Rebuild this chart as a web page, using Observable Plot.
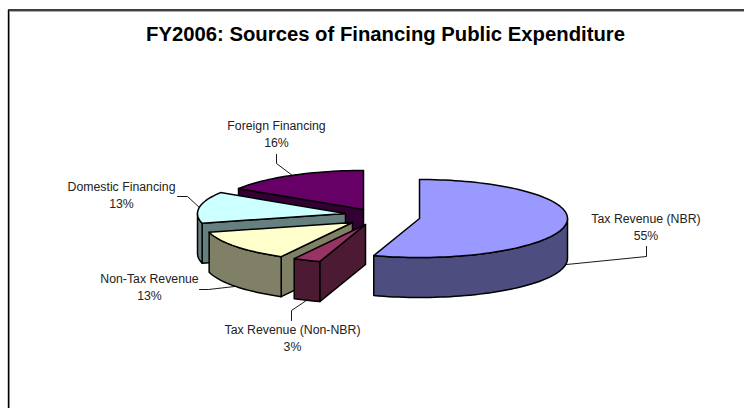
<!DOCTYPE html>
<html>
<head>
<meta charset="utf-8">
<style>
  html, body { margin: 0; padding: 0; background: #fff; }
  svg { display: block; }
</style>
<script src="https://cdn.jsdelivr.net/npm/d3@7"></script>
<script src="https://cdn.jsdelivr.net/npm/@observablehq/plot@0.6"></script>
</head>
<body>
<script>
// Financing shares, in pie order clockwise from twelve o'clock
const sources = ["Tax Revenue (NBR)", "Tax Revenue (Non-NBR)", "Non-Tax Revenue", "Domestic Financing", "Foreign Financing"];
const shares = [55, 3, 13, 13, 16];
const titleText = "FY2006: Sources of Financing Public Expenditure";

// Colours of each slice: top face and side walls
const topColors = ["#9999ff", "#993366", "#ffffcc", "#ccffff", "#660066"];
const wallColors = ["#4d4d80", "#4d1a33", "#808066", "#668080", "#330033"];

// Drawing layout: exploded slice centres, label anchors, leader elbows and ends
const sliceCenters = [[419, 218], [365, 224], [352, 222], [345, 213], [363, 209]];
const labelAnchors = [[645.5, 219], [292, 330], [149, 279], [121, 187], [276, 126]];
const leaderElbows = [[[646, 256], [646, 246]], [[291, 310], [291, 320]], [[208, 289], [199, 289]], [[187, 196], [177, 196]], [[276, 163], [276, 154]]];
const radiusX = 148, radiusY = 39, depth = 40, lineGap = 17;

const rad = d => d * Math.PI / 180;
const rim = ([cx, cy], a, dy = 0) => [cx + radiusX * Math.sin(rad(a)), cy - radiusY * Math.cos(rad(a)) + dy];
const arc = (c, a0, a1, dy = 0) => {
  const n = Math.max(2, Math.ceil((a1 - a0) / 2));
  return d3.range(n + 1).map(i => rim(c, a0 + (a1 - a0) * i / n, dy));
};

// Turn the shares into angle ranges
let running = 0;
const slices = shares.map((s, i) => {
  const a0 = running * 3.6;
  running += s;
  return {i, a0, a1: running * 3.6, c: sliceCenters[i]};
});

// One closed, outlined polygon on the pixel-aligned scales
const face = (pts, fill) => Plot.line(pts, {
  x: d => d[0], y: d => d[1], curve: "linear-closed",
  fill, stroke: "#000", strokeWidth: 1.5, strokeLinejoin: "round"
});

// Painter's order: walls first, top face last; the back slice first
const paintOrder = [4, 3, 2, 1, 0];
const sliceMarks = paintOrder.flatMap(i => {
  const {a0, a1, c} = slices[i];
  const marks = [];
  const wall = wallColors[i];
  if (a0 > 180) {
    const [x, y] = c;
    const [ex, ey] = rim(c, a0);
    marks.push(face([[x, y], [ex, ey], [ex, ey + depth], [x, y + depth]], wall));
  }
  const v0 = Math.max(a0, 90), v1 = Math.min(a1, 270);
  if (v1 > v0) {
    marks.push(face([...arc(c, v0, v1), ...arc(c, v0, v1, depth).reverse()], wall));
  }
  marks.push(face([c, ...arc(c, a0, a1)], topColors[i]));
  return marks;
});

// Leaders run from the visible rim at each slice's middle angle to its label
const leaderMarks = slices.map(({i, a0, a1, c}) => {
  const mid = (a0 + a1) / 2;
  const front = mid > 90 && mid < 270;
  return Plot.line([rim(c, mid, front ? depth : 0), ...leaderElbows[i]], {
    x: d => d[0], y: d => d[1], stroke: "#000", strokeWidth: 0.9
  });
});

const labelRows = sources.flatMap((name, i) => [
  {text: name, x: labelAnchors[i][0], y: labelAnchors[i][1]},
  {text: `${shares[i]}%`, x: labelAnchors[i][0], y: labelAnchors[i][1] + lineGap}
]);

const chart = Plot.plot({
  width: 744,
  height: 408,
  margin: 0,
  x: {domain: [0, 744], range: [0, 744], axis: null},
  y: {domain: [0, 408], range: [0, 408], axis: null},
  style: {background: "#fff"},
  marks: [
    // Chart-area edge: dark rule with a soft grey inner shadow
    Plot.line([[9, 408], [9, 11], [744, 11]], {x: d => d[0], y: d => d[1], stroke: "#aaa", strokeWidth: 1}),
    Plot.line([[8, 408], [8, 9.5], [744, 9.5]], {x: d => d[0], y: d => d[1], stroke: "#000", strokeWidth: 1.4}),
    ...sliceMarks,
    ...leaderMarks,
    Plot.text([titleText], {
      x: () => 385, y: () => 34, text: d => d, fontFamily: "Liberation Sans",
      fontWeight: "bold", fontSize: 20.3, fill: "#000"
    }),
    Plot.text(labelRows, {
      x: "x", y: "y", text: "text", fontFamily: "Liberation Sans", fontSize: 12.3, fill: "#222"
    })
  ]
});
document.body.appendChild(chart);
</script>
</body>
</html>
